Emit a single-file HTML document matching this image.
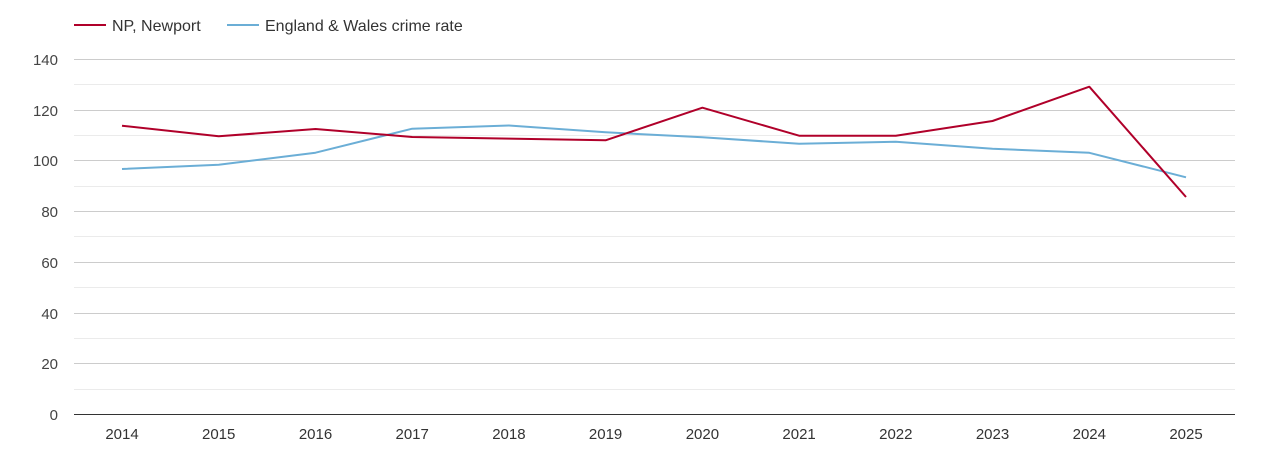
<!DOCTYPE html>
<html><head><meta charset="utf-8"><style>
html,body{margin:0;padding:0;background:#fff;}
svg{display:block;font-family:"Liberation Sans",Arial,sans-serif;}
</style></head><body>
<svg width="1270" height="450" viewBox="0 0 1270 450" xmlns="http://www.w3.org/2000/svg">
<g stroke="#ebebeb" stroke-width="1">
<line x1="74" x2="1235" y1="84.5" y2="84.5"/>
<line x1="74" x2="1235" y1="135.5" y2="135.5"/>
<line x1="74" x2="1235" y1="186.5" y2="186.5"/>
<line x1="74" x2="1235" y1="236.5" y2="236.5"/>
<line x1="74" x2="1235" y1="287.5" y2="287.5"/>
<line x1="74" x2="1235" y1="338.5" y2="338.5"/>
<line x1="74" x2="1235" y1="389.5" y2="389.5"/>
</g>
<g stroke="#cccccc" stroke-width="1">
<line x1="74" x2="1235" y1="59.5" y2="59.5"/>
<line x1="74" x2="1235" y1="110.5" y2="110.5"/>
<line x1="74" x2="1235" y1="160.5" y2="160.5"/>
<line x1="74" x2="1235" y1="211.5" y2="211.5"/>
<line x1="74" x2="1235" y1="262.5" y2="262.5"/>
<line x1="74" x2="1235" y1="313.5" y2="313.5"/>
<line x1="74" x2="1235" y1="363.5" y2="363.5"/>
</g>
<line x1="74" x2="1235" y1="414.5" y2="414.5" stroke="#333" stroke-width="1"/>
<g fill="#444" font-size="15" text-anchor="end">
<text x="58" y="65">140</text>
<text x="58" y="116">120</text>
<text x="58" y="166">100</text>
<text x="58" y="217">80</text>
<text x="58" y="268">60</text>
<text x="58" y="319">40</text>
<text x="58" y="369">20</text>
<text x="58" y="420">0</text>
</g>
<g fill="#333" font-size="15" text-anchor="middle">
<text x="122" y="439">2014</text>
<text x="218.7" y="439">2015</text>
<text x="315.5" y="439">2016</text>
<text x="412.2" y="439">2017</text>
<text x="508.9" y="439">2018</text>
<text x="605.6" y="439">2019</text>
<text x="702.4" y="439">2020</text>
<text x="799.1" y="439">2021</text>
<text x="895.8" y="439">2022</text>
<text x="992.5" y="439">2023</text>
<text x="1089.3" y="439">2024</text>
<text x="1186" y="439">2025</text>
</g>
<polyline fill="none" stroke="#6baed6" stroke-width="2" stroke-linejoin="round" points="122,169 218.7,164.7 315.5,152.7 412.2,128.7 508.9,125.5 605.6,132.3 702.4,137.3 799.1,143.7 895.8,141.7 992.5,148.7 1089.3,152.8 1186,177.3"/>
<polyline fill="none" stroke="#b0002a" stroke-width="2" stroke-linejoin="round" points="122,125.7 218.7,136.3 315.5,129 412.2,137 508.9,138.6 605.6,140.3 702.4,107.7 799.1,135.7 895.8,135.7 992.5,121 1089.3,86.7 1186,197"/>
<line x1="74" x2="106" y1="25" y2="25" stroke="#b0002a" stroke-width="2"/>
<text x="112" y="31" font-size="16" fill="#333">NP, Newport</text>
<line x1="227" x2="259" y1="25" y2="25" stroke="#6baed6" stroke-width="2"/>
<text x="265" y="31" font-size="16" fill="#333">England &amp; Wales crime rate</text>
</svg>
</body></html>
